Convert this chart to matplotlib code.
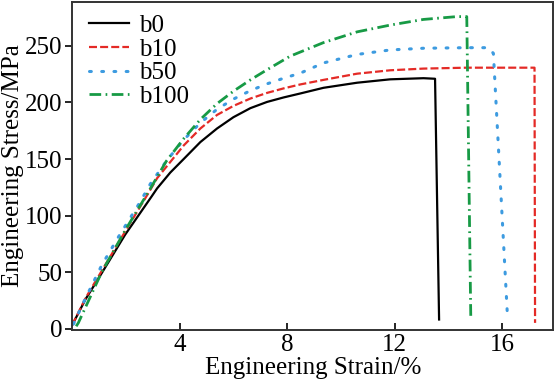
import matplotlib
matplotlib.use("Agg")
import matplotlib.pyplot as plt

plt.rcParams["font.family"] = ["Liberation Serif", "DejaVu Serif"]

# stress-strain curves (strain %, stress MPa)
b0_strain = [0.0, 0.5, 1.1, 1.97, 2.96, 3.16, 3.65, 4.15, 4.77, 5.39, 6.0, 6.63,
             7.25, 7.87, 8.49, 9.35, 10.6, 11.83, 13.07, 13.5, 13.65]
b0_stress = [3, 26, 49, 83, 117, 124, 138, 150, 165, 177, 187, 195,
             200.5, 204.5, 208, 213, 217.5, 220.5, 221.5, 221, 8]

b10_strain = [0.0, 0.5, 1.1, 2.0, 2.84, 3.16, 4.15, 4.77, 5.39, 6.0, 6.63, 7.25,
              7.87, 8.49, 9.35, 10.6, 11.83, 13.07, 14.68, 16.0, 17.2, 17.22]
b10_stress = [3, 27, 51, 87, 120, 133, 162, 177, 189, 197, 203.5, 208.5,
              212.5, 216, 220, 225.5, 228.5, 230, 230.8, 230.8, 230.8, 5]

b50_strain = [0.05, 0.42, 1.1, 1.72, 2.53, 2.91, 3.53, 4.15, 4.77, 5.39, 6.0,
              6.63, 7.25, 7.87, 8.49, 9.35, 10.6, 11.83, 13.07, 14.68, 15.48,
              15.67, 16.2]
b50_stress = [4, 23, 56, 81, 112, 128, 149, 167, 182, 194, 203,
              210.5, 216.5, 221.5, 226, 235, 242.5, 246.5, 248, 248.5, 248.5,
              243.5, 8]

b100_strain = [0.15, 0.23, 0.79, 1.1, 2.0, 2.84, 3.5, 4.15, 4.77, 5.39, 6.0,
               6.63, 7.25, 8.11, 9.35, 10.6, 11.83, 13.07, 14.31, 14.68, 14.83]
b100_stress = [2, 5, 34, 50, 88, 121, 148, 168, 185, 199, 210,
               220, 229, 241, 253, 262.5, 268.5, 273.5, 276, 276, 8]

x_ticks = [4, 8, 12, 16]
y_ticks = [0, 50, 100, 150, 200, 250]

fig = plt.figure(figsize=(5.55, 3.82), dpi=100)
ax = fig.add_axes([0.13, 0.137, 0.867, 0.858])

ax.plot(b0_strain, b0_stress, color="black", lw=1.6, label="b0")
ax.plot(b10_strain, b10_stress, color="#e42a26", lw=1.6,
        linestyle=(0, (3.6, 1.4)), label="b10")
ax.plot(b50_strain, b50_stress, color="#3d9be0", lw=2.2,
        linestyle=(0, (0.6, 3.4)), dash_capstyle="round", label="b50")
ax.plot(b100_strain, b100_stress, color="#179a45", lw=2.0,
        linestyle=(0, (4.2, 1.6, 0.6, 1.6)), label="b100")

ax.set_xlim(0, 17.9)
ax.set_ylim(-1, 289)
ax.set_xticks(x_ticks)
ax.set_yticks(y_ticks)
ax.tick_params(axis="x", direction="in", length=5, width=1.2, labelsize=18, pad=3)
ax.tick_params(axis="y", direction="out", length=5, width=1.2, labelsize=18, pad=2)
for s in ax.spines.values():
    s.set_linewidth(1.4)
    s.set_color("#333333")

ax.set_xlabel("Engineering Strain/%", fontsize=18, labelpad=1)
ax.set_ylabel("Engineering Stress/MPa", fontsize=18, labelpad=1)

ax.legend(loc="upper left", bbox_to_anchor=(0.01, 1.0), frameon=False,
          fontsize=18, handlelength=1.6, handletextpad=0.4,
          labelspacing=0.05, borderaxespad=0.1)

fig.savefig("out.png", dpi=100)
